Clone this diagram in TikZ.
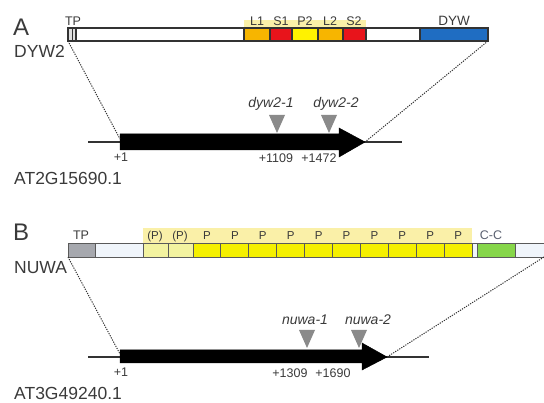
\documentclass[tikz,border=0pt]{standalone}
\usepackage{fontspec}
\setmainfont{Liberation Sans}
\definecolor{txt}{HTML}{3A3A3A}
\definecolor{segline}{HTML}{333333}
\definecolor{orng}{HTML}{F7B500}
\definecolor{rd}{HTML}{E8141B}
\definecolor{ylw}{HTML}{FFF200}
\definecolor{blu}{HTML}{1F6DC2}
\definecolor{hl}{HTML}{FAF0A8}
\definecolor{bgry}{HTML}{A6A8AE}
\definecolor{bwht}{HTML}{F0F5FB}
\definecolor{lylw}{HTML}{F3F3A0}
\definecolor{pylw}{HTML}{F5F000}
\definecolor{grn}{HTML}{86D64A}
\definecolor{bline}{HTML}{5A5A5A}
\definecolor{tri}{HTML}{8A8A8A}
\definecolor{cclbl}{HTML}{5A6070}
\begin{document}
\begin{tikzpicture}[x=1pt,y=-1pt,
  boxA/.style={draw=segline, line width=1.1pt, inner sep=0pt, outer sep=0pt, anchor=north west, minimum height=13pt},
  boxB/.style={draw=bline, line width=0.9pt, inner sep=0pt, outer sep=0pt, anchor=north west, minimum height=14pt},
  dlbl/.style={font=\fontsize{12.5}{12}\selectfont, text=txt, inner sep=0pt, anchor=base},
  numlbl/.style={font=\fontsize{12.5}{12}\selectfont, text=txt, inner sep=0pt},
  allele/.style={font=\fontsize{14}{14}\selectfont\itshape, text=txt, inner sep=0pt},
  idlbl/.style={font=\fontsize{17.5}{17}\selectfont, text=txt, inner sep=0pt, anchor=west},
  panellbl/.style={font=\fontsize{24}{24}\selectfont, text=txt, inner sep=0pt, anchor=west},
  tritip/.style={fill=tri, draw=none},
  dotline/.style={draw=segline, line width=1pt, dash pattern=on 1.2pt off 1.2pt},
  backbone/.style={draw=segline, line width=1.3pt},
  genebar/.style={fill=black, draw=black, line width=0.5pt}
]
\useasboundingbox (0,0) rectangle (544,403);

%%%%%%%%%%%%%%% Panel A
\node[panellbl] (pA) at (13,27) {A};
\node[idlbl] (nA) at (14,51) {DYW2};
\fill[hl] (244,20) rectangle (366,28);
\node[boxA, fill=white, minimum width=420pt] (barA) at (68,28) {};
\node[boxA, fill=gray!25, minimum width=8pt] (tpA) at (68,28) {};
\draw[segline, line width=0.8pt] (72,28) -- (72,41);
\node[boxA, fill=orng, minimum width=26pt] (L1) at (244,28) {};
\node[boxA, fill=rd, minimum width=22pt] (S1) at (270,28) {};
\node[boxA, fill=ylw, minimum width=26pt] (P2) at (292,28) {};
\node[boxA, fill=orng, minimum width=25pt] (L2) at (318,28) {};
\node[boxA, fill=rd, minimum width=23pt] (S2) at (343,28) {};
\node[boxA, fill=blu, minimum width=68pt] (DYW) at (420,28) {};
\node[dlbl] at (73,26) {TP};
\node[dlbl] at (257,26) {L1};
\node[dlbl] at (281,26) {S1};
\node[dlbl] at (305,26) {P2};
\node[dlbl] at (330,26) {L2};
\node[dlbl] at (354,26) {S2};
\node[dlbl, font=\fontsize{13.5}{13}\selectfont] at (454,26) {DYW};

% gene A
\coordinate (gA0) at (88,142);
\coordinate (gA1) at (402,142);
\draw[backbone] (gA0) -- (gA1);
\draw[genebar] (120,134) -- (339,134) -- (339,128) -- (365,142) -- (339,157) -- (339,150) -- (120,150) -- cycle;
\coordinate (gAstart) at (120,139);
\coordinate (gAtip) at (365,142);
\draw[dotline] (barA.south west) -- (gAstart);
\draw[dotline] (barA.south east) -- (gAtip);
\fill[tritip] (269,115) -- (285,115) -- (277,133) -- cycle;
\fill[tritip] (321,115) -- (337,115) -- (329,133) -- cycle;
\node[allele] (a1) at (271,104) {dyw2-1};
\node[allele] (a2) at (336,104) {dyw2-2};
\node[numlbl] (n1) at (121,157) {+1};
\node[numlbl] (n2) at (276,158) {+1109};
\node[numlbl] (n3) at (319,158) {+1472};
\node[idlbl] (idA) at (14,178) {AT2G15690.1};

%%%%%%%%%%%%%%% Panel B
\node[panellbl] (pB) at (13,232) {B};
\node[idlbl] (nB) at (14,268) {NUWA};
\fill[hl] (143,228) rectangle (472,243);
\node[boxB, fill=bwht, minimum width=478pt] (barB) at (68,243) {};
\node[boxB, fill=bgry, minimum width=27pt] (tpB) at (68,243) {};
\node[boxB, fill=lylw, minimum width=25pt] (pp1) at (143,243) {};
\node[boxB, fill=lylw, minimum width=25pt] (pp2) at (168,243) {};
\foreach \i in {0,...,9} {
  \node[boxB, fill=pylw, minimum width=27.9pt] (P\i) at ({193+27.9*\i},243) {};
  \node[dlbl, font=\fontsize{11.5}{11}\selectfont] at ({207+27.9*\i},240) {P};
}
\node[boxB, fill=grn, minimum width=38pt] (CC) at (477,243) {};
\node[dlbl] at (81,240) {TP};
\node[dlbl, font=\fontsize{11.5}{11}\selectfont] at (155,240) {(P)};
\node[dlbl, font=\fontsize{11.5}{11}\selectfont] at (180,240) {(P)};
\node[dlbl, text=cclbl] at (491,240) {C-C};

% gene B
\coordinate (gB0) at (88,357);
\coordinate (gB1) at (429,357);
\draw[backbone] (gB0) -- (gB1);
\draw[genebar] (120,350) -- (362,350) -- (362,343) -- (387,357) -- (362,370) -- (362,363) -- (120,363) -- cycle;
\coordinate (gBstart) at (120,354);
\coordinate (gBtip) at (387,357);
\coordinate (barBend) at (544,257);
\draw[dotline] (barB.south west) -- (gBstart);
\draw[dotline] (barBend) -- (gBtip);
\fill[tritip] (299,330) -- (315,330) -- (307,348) -- cycle;
\fill[tritip] (351,330) -- (367,330) -- (359,348) -- cycle;
\node[allele] (b1) at (305,320) {nuwa-1};
\node[allele] (b2) at (368,320) {nuwa-2};
\node[numlbl] (m1) at (121,372) {+1};
\node[numlbl] (m2) at (290,373) {+1309};
\node[numlbl] (m3) at (333,373) {+1690};
\node[idlbl] (idB) at (14,393) {AT3G49240.1};
\end{tikzpicture}
\end{document}
